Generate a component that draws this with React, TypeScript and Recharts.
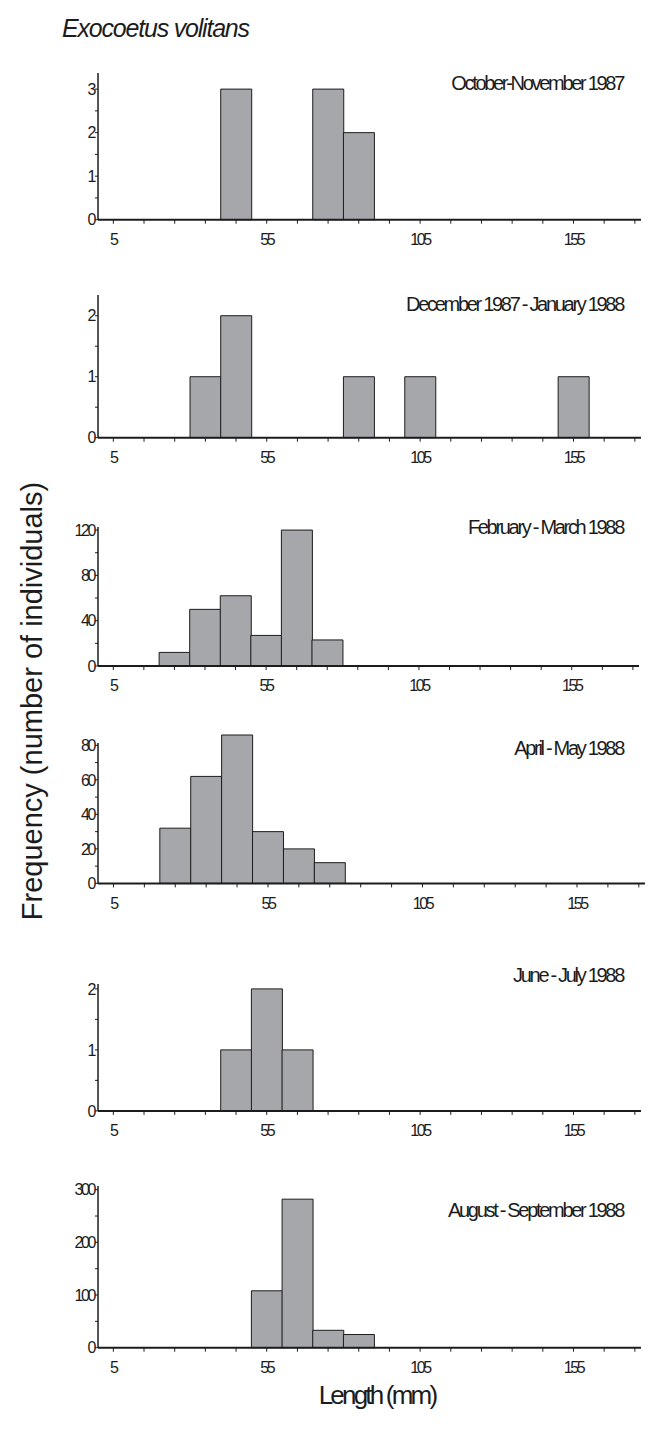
import React from 'react';
import { BarChart, Bar, XAxis, YAxis, ReferenceLine } from 'recharts';

// ---------- data ----------
const binMids = [5, 15, 25, 35, 45, 55, 65, 75, 85, 95, 105, 115, 125, 135, 145, 155, 165, 175];
const xTickLabels = [5, 55, 105, 155];

const octNov1987 = [0, 0, 0, 0, 3, 0, 0, 3, 2, 0, 0, 0, 0, 0, 0, 0, 0, 0];
const decJan1988 = [0, 0, 0, 1, 2, 0, 0, 0, 1, 0, 1, 0, 0, 0, 0, 1, 0, 0];
const febMar1988 = [0, 0, 12, 50, 62, 27, 120, 23, 0, 0, 0, 0, 0, 0, 0, 0, 0, 0];
const aprMay1988 = [0, 0, 32, 62, 86, 30, 20, 12, 0, 0, 0, 0, 0, 0, 0, 0, 0, 0];
const junJul1988 = [0, 0, 0, 0, 1, 2, 1, 0, 0, 0, 0, 0, 0, 0, 0, 0, 0, 0];
const augSep1988 = [0, 0, 0, 0, 0, 108, 282, 33, 25, 0, 0, 0, 0, 0, 0, 0, 0, 0];

const panelTitles = [
  'October-November 1987',
  'December 1987 - January 1988',
  'February - March 1988',
  'April - May 1988',
  'June - July 1988',
  'August - September 1988',
];

const yTicks1 = [0, 0.5, 1, 1.5, 2, 2.5, 3];
const yLabels1 = [0, 1, 2, 3];
const yTicks2 = [0, 0.5, 1, 1.5, 2];
const yLabels2 = [0, 1, 2];
const yTicks3 = [0, 20, 40, 60, 80, 100, 120];
const yLabels3 = [0, 40, 80, 120];
const yTicks4 = [0, 10, 20, 30, 40, 50, 60, 70, 80];
const yLabels4 = [0, 20, 40, 60, 80];
const yTicks5 = [0, 0.5, 1, 1.5, 2];
const yLabels5 = [0, 1, 2];
const yTicks6 = [0, 50, 100, 150, 200, 250, 300];
const yLabels6 = [0, 100, 200, 300];

const chartTitle = 'Exocoetus volitans';
const yAxisTitle = 'Frequency (number of individuals)';
const xAxisTitle = 'Length (mm)';

// ---------- layout (page pixels) ----------
const panels = [
  { values: octNov1987, yTicks: yTicks1, yLabels: yLabels1, yMax: 3.37, axisTop: 3.37, top: 73.3, height: 146.7, right: 641, titleY: 90 },
  { values: decJan1988, yTicks: yTicks2, yLabels: yLabels2, yMax: 2.34, axisTop: 2.34, top: 295.3, height: 142.7, right: 641, titleY: 311 },
  { values: febMar1988, yTicks: yTicks3, yLabels: yLabels3, yMax: 122.7, axisTop: 122.7, top: 526.7, height: 139, right: 639, titleY: 534 },
  { values: aprMay1988, yTicks: yTicks4, yLabels: yLabels4, yMax: 86, axisTop: 81.4, top: 735.3, height: 148.4, right: 645, titleY: 755 },
  { values: junJul1988, yTicks: yTicks5, yLabels: yLabels5, yMax: 2.08, axisTop: 2.08, top: 983.8, height: 126.9, right: 641, titleY: 982 },
  { values: augSep1988, yTicks: yTicks6, yLabels: yLabels6, yMax: 307, axisTop: 307, top: 1186, height: 161.7, right: 641, titleY: 1217 },
];

const INK = '#1c1c1c';
const BAR_FILL = '#a6a7ab';
const FONT = '"Liberation Sans", Arial, Helvetica, sans-serif';
const M_TOP = 12;
const X_AXIS_H = 40;
const Y_AXIS_W = 50;
const PLOT_LEFT = 98;

function Panel(props: any) {
  const { values, yTicks, yLabels, yMax, axisTop, top, height, right } = props;
  const data = binMids.map((mid, i) => ({ mid, count: values[i] }));
  return (
    <div style={{ position: 'absolute', left: 0, top: top - M_TOP }}>
      <BarChart
        width={650}
        height={height + M_TOP + X_AXIS_H}
        data={data}
        margin={{ top: M_TOP, right: 650 - right, left: PLOT_LEFT - Y_AXIS_W, bottom: 0 }}
        barCategoryGap={0}
        barGap={0}
      >
        <XAxis
          dataKey="mid"
          type="number"
          domain={[0, 177]}
          ticks={binMids}
          interval={0}
          tickFormatter={(v: number) => (xTickLabels.includes(v) ? String(v) : '')}
          axisLine={{ stroke: INK, strokeWidth: 2 }}
          tickLine={{ stroke: INK, strokeWidth: 1 }}
          tickSize={4}
          tickMargin={10}
          height={X_AXIS_H}
          tick={{ fill: INK, fontSize: 16, fontFamily: FONT }}
        />
        <YAxis
          type="number"
          domain={[0, yMax]}
          ticks={yTicks}
          interval={0}
          tickFormatter={(v: number) => (yLabels.includes(v) ? String(v) : '')}
          axisLine={false}
          tickLine={{ stroke: INK, strokeWidth: 1 }}
          tickSize={3}
          tickMargin={1}
          width={Y_AXIS_W}
          tick={{ fill: INK, fontSize: 16, fontFamily: FONT }}
        />
        <ReferenceLine
          segment={[{ x: 0, y: 0 }, { x: 0, y: axisTop }]}
          stroke={INK}
          strokeWidth={1.5}
        />
        <Bar
          dataKey="count"
          fill={BAR_FILL}
          stroke={INK}
          strokeWidth={1}
          isAnimationActive={false}
        />
      </BarChart>
    </div>
  );
}

export default function App() {
  return (
    <div style={{ position: 'absolute', left: 0, top: 0, width: 650, height: 1442, background: '#fff', fontFamily: FONT }}>
      <style>{`.recharts-cartesian-axis-tick-value { letter-spacing: -2.4px; }`}</style>
      {panels.map((p, i) => (
        <Panel key={i} {...p} />
      ))}
      <svg width={650} height={1442} style={{ position: 'absolute', left: 0, top: 0, pointerEvents: 'none' }}>
        <text x={62} y={37} fontFamily={FONT} fontSize={25} fontStyle="italic" fill={INK} style={{ letterSpacing: '-1.2px' }}>
          {chartTitle}
        </text>
        {panels.map((p, i) => (
          <text key={i} x={623} y={p.titleY} textAnchor="end" fontFamily={FONT} fontSize={20} fill={INK} style={{ letterSpacing: '-2.3px' }}>
            {panelTitles[i]}
          </text>
        ))}
        <text
          x={0}
          y={0}
          transform="translate(42, 701) rotate(-90)"
          textAnchor="middle"
          fontFamily={FONT}
          fontSize={29}
          fill={INK}
        >
          {yAxisTitle}
        </text>
        <text x={377} y={1404} textAnchor="middle" fontFamily={FONT} fontSize={26} fill={INK} style={{ letterSpacing: '-2.8px' }}>
          {xAxisTitle}
        </text>
      </svg>
    </div>
  );
}
